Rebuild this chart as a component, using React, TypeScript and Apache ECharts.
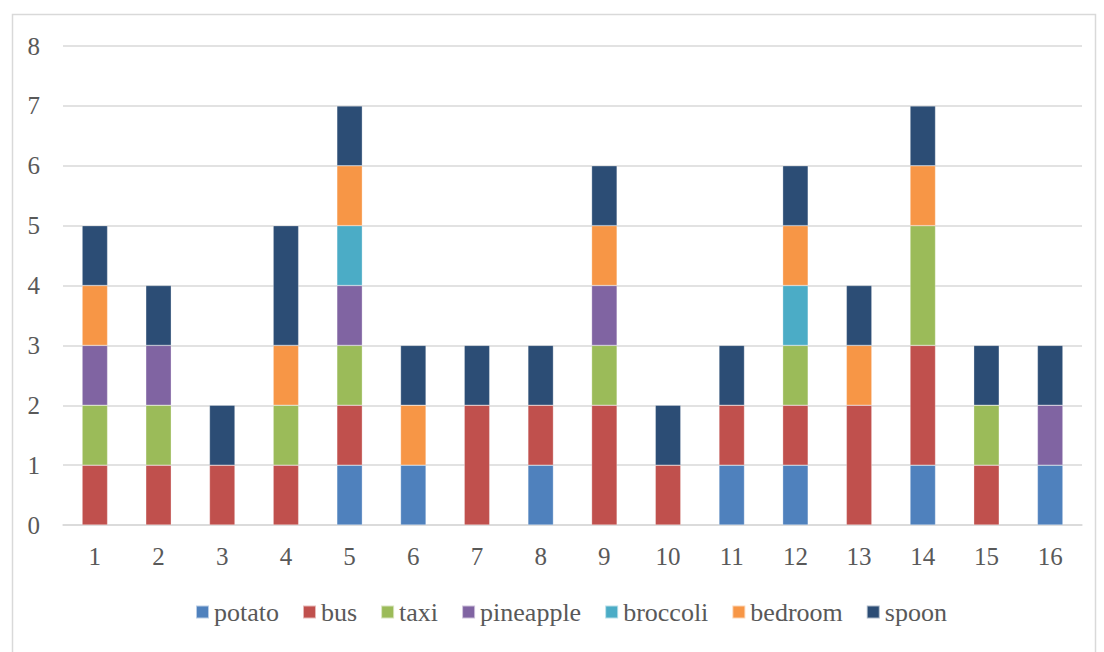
import React, { useEffect, useRef } from "react";
import * as echarts from "echarts";

const categories = ["1", "2", "3", "4", "5", "6", "7", "8", "9", "10", "11", "12", "13", "14", "15", "16"];

const potato = [0, 0, 0, 0, 1, 1, 0, 1, 0, 0, 1, 1, 0, 1, 0, 1];
const bus = [1, 1, 1, 1, 1, 0, 2, 1, 2, 1, 1, 1, 2, 2, 1, 0];
const taxi = [1, 1, 0, 1, 1, 0, 0, 0, 1, 0, 0, 1, 0, 2, 1, 0];
const pineapple = [1, 1, 0, 0, 1, 0, 0, 0, 1, 0, 0, 0, 0, 0, 0, 1];
const broccoli = [0, 0, 0, 0, 1, 0, 0, 0, 0, 0, 0, 1, 0, 0, 0, 0];
const bedroom = [1, 0, 0, 1, 1, 1, 0, 0, 1, 0, 0, 1, 1, 1, 0, 0];
const spoon = [1, 1, 1, 2, 1, 1, 1, 1, 1, 1, 1, 1, 1, 1, 1, 1];

const seriesList = [
  { name: "potato", data: potato, color: "#4F81BD" },
  { name: "bus", data: bus, color: "#C0504D" },
  { name: "taxi", data: taxi, color: "#9BBB59" },
  { name: "pineapple", data: pineapple, color: "#8064A2" },
  { name: "broccoli", data: broccoli, color: "#4BACC6" },
  { name: "bedroom", data: bedroom, color: "#F79646" },
  { name: "spoon", data: spoon, color: "#2C4D75" },
];

const FONT = "'Liberation Serif', 'Times New Roman', serif";
const TEXT = "#595959";

export default function App() {
  const ref = useRef<HTMLDivElement>(null);

  useEffect(() => {
    document.body.style.margin = "0";
    if (!ref.current) return;
    const chart = echarts.init(ref.current, undefined, { renderer: "svg" });
    chart.setOption({
      animation: false,
      backgroundColor: "#ffffff",
      graphic: [
        {
          type: "rect",
          left: 10,
          top: 12,
          shape: { width: 1083, height: 650 },
          style: { fill: "none", stroke: "#d9d9d9", lineWidth: 1.5 },
          silent: true,
        },
      ],
      grid: { left: 63, right: 22, top: 46, bottom: 127, containLabel: false },
      legend: {
        bottom: 22,
        left: 190,
        itemWidth: 13,
        itemHeight: 13,
        itemGap: 23,
        icon: "rect",
        textStyle: { fontFamily: FONT, fontSize: 26, color: TEXT },
        data: seriesList.map((s) => s.name),
      },
      xAxis: {
        type: "category",
        data: categories,
        axisLine: { show: true, lineStyle: { color: "#d9d9d9", width: 1.5 } },
        axisTick: { show: false },
        axisLabel: { fontFamily: FONT, fontSize: 25, color: TEXT, margin: 19 },
      },
      yAxis: {
        type: "value",
        min: 0,
        max: 8,
        interval: 1,
        axisLine: { show: false },
        axisTick: { show: false },
        splitLine: { lineStyle: { color: "#d9d9d9", width: 1.5 } },
        axisLabel: { fontFamily: FONT, fontSize: 25, color: TEXT, margin: 23 },
      },
      series: seriesList.map((s) => ({
        name: s.name,
        type: "bar",
        stack: "total",
        barWidth: "40%",
        data: s.data.map((v) => (v === 0 ? null : v)),
        itemStyle: { color: s.color, borderColor: "rgba(255,255,255,0.6)", borderWidth: 0.5 },
      })),
    });
    return () => chart.dispose();
  }, []);

  return <div ref={ref} style={{ width: 1104, height: 652 }} />;
}
